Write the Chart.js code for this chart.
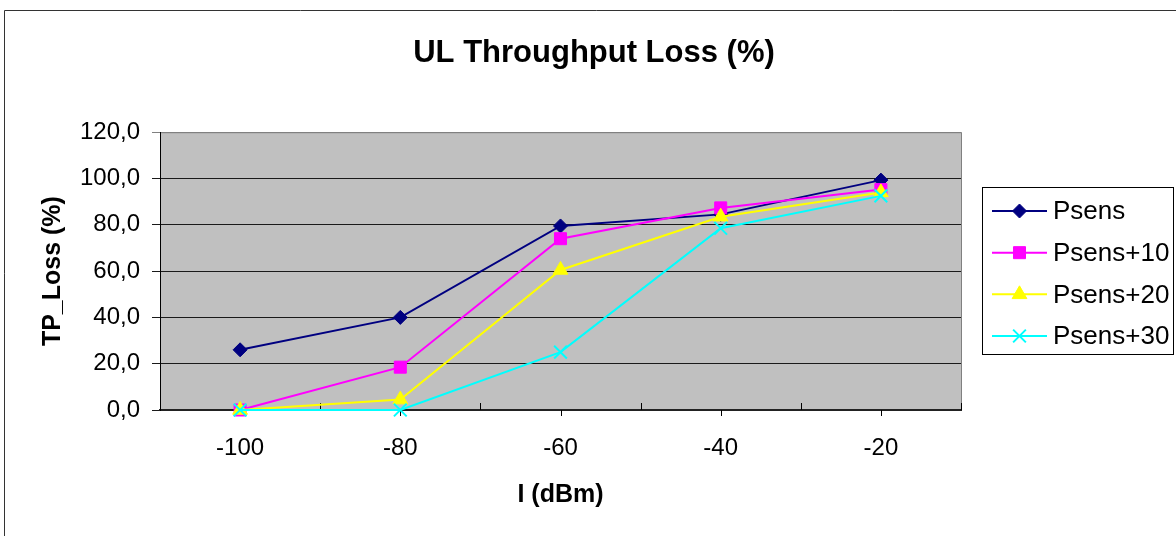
<!DOCTYPE html>
<html>
<head>
<meta charset="utf-8">
<title>UL Throughput Loss</title>
<script src="https://cdn.jsdelivr.net/npm/chart.js@4/dist/chart.umd.min.js"></script>
<style>
  html, body { margin: 0; padding: 0; background: #fff; overflow: hidden; }
  #wrap { width: 1176px; height: 536px; overflow: hidden; }
</style>
</head>
<body>
<div id="wrap"><canvas id="chart" width="1188" height="536"></canvas></div>
<script>
// Interference levels (dBm) and throughput loss per sensitivity offset
const levels = ['-100', '-80', '-60', '-40', '-20'];
const psens = [26, 40, 79.5, 84.5, 99.3];
const psens10 = [0, 18.5, 74, 87.3, 95.2];
const psens20 = [0, 4.5, 60.5, 83.5, 94];
const psens30 = [0, 0, 25, 78.5, 92.5];
const yTickLabels = ['0,0', '20,0', '40,0', '60,0', '80,0', '100,0', '120,0'];

const FONT = '"Liberation Sans", Arial, sans-serif';

// grey plot background, frame and the chart's outer border
const plotFrame = {
  id: 'plotFrame',
  beforeDraw(chart) {
    const { ctx, chartArea: a } = chart;
    ctx.save();
    ctx.fillStyle = '#c0c0c0';
    ctx.fillRect(a.left, a.top, a.right - a.left, a.bottom - a.top);
    ctx.strokeStyle = '#808080';
    ctx.lineWidth = 1;
    ctx.strokeRect(a.left + 0.5, a.top + 0.5, a.right - a.left, a.bottom - a.top);
    ctx.strokeStyle = '#333';
    ctx.beginPath();
    ctx.moveTo(4.5, chart.height + 5);
    ctx.lineTo(4.5, 10.5);
    ctx.lineTo(chart.width + 5, 10.5);
    ctx.stroke();
    ctx.restore();
  },
  // tick marks on the category axis: inside at boundaries, outside at centres
  beforeDatasetsDraw(chart) {
    const { ctx, chartArea: a } = chart;
    const xs = chart.scales.x;
    const step = xs.getPixelForValue(1) - xs.getPixelForValue(0);
    ctx.save();
    ctx.strokeStyle = '#000';
    ctx.lineWidth = 1;
    ctx.beginPath();
    for (let i = 0; i < levels.length; i++) {
      const c = Math.round(xs.getPixelForValue(i)) + 0.5;
      ctx.moveTo(c, a.bottom);
      ctx.lineTo(c, a.bottom + 6);
      const b = Math.round(xs.getPixelForValue(i) + step / 2) + 0.5;
      ctx.moveTo(b, a.bottom);
      ctx.lineTo(b, a.bottom - 7);
    }
    ctx.stroke();
    ctx.restore();
  }
};

// boxed legend with line + marker samples
const boxLegend = {
  id: 'boxLegend',
  afterDraw(chart) {
    const { ctx } = chart;
    const x0 = 982, y0 = 187, w = 191, h = 167;
    ctx.save();
    ctx.fillStyle = '#fff';
    ctx.fillRect(x0, y0, w, h);
    ctx.strokeStyle = '#000';
    ctx.lineWidth = 1;
    ctx.strokeRect(x0 + 0.5, y0 + 0.5, w, h);
    chart.data.datasets.forEach((ds, i) => {
      const y = 211 + i * 41.67;
      ctx.strokeStyle = ds.borderColor;
      ctx.lineWidth = 2;
      ctx.beginPath();
      ctx.moveTo(992, y);
      ctx.lineTo(1047, y);
      ctx.stroke();
      ctx.fillStyle = ds.pointBackgroundColor;
      ctx.strokeStyle = ds.pointBorderColor;
      ctx.lineWidth = ds.pointBorderWidth;
      Chart.helpers.drawPoint(ctx, {
        pointStyle: ds.pointStyle, radius: ds.pointRadius, rotation: 0, borderWidth: ds.pointBorderWidth
      }, 1019.5, y);
      ctx.fillStyle = '#000';
      ctx.font = '26px ' + FONT;
      ctx.textBaseline = 'middle';
      ctx.textAlign = 'left';
      ctx.fillText(ds.label, 1053, y + 1);
    });
    ctx.restore();
  }
};

function series(label, data, color, style, radius, bw, order) {
  return {
    label, data, order,
    clip: false,
    borderColor: color,
    borderWidth: 2,
    pointStyle: style,
    pointRadius: radius,
    pointHoverRadius: radius,
    pointBackgroundColor: color,
    pointBorderColor: color,
    pointBorderWidth: bw,
    tension: 0,
    fill: false
  };
}

const chart = new Chart(document.getElementById('chart').getContext('2d'), {
  type: 'line',
  data: {
    labels: levels,
    datasets: [
      series('Psens', psens, '#000080', 'rectRot', 7, 1, 3),
      series('Psens+10', psens10, '#ff00ff', 'rect', 8.5, 1, 2),
      series('Psens+20', psens20, '#ffff00', 'triangle', 8.5, 1, 1),
      series('Psens+30', psens30, '#00ffff', 'crossRot', 9, 2, 0)
    ]
  },
  options: {
    responsive: false,
    animation: false,
    events: [],
    layout: { padding: 0 },
    plugins: {
      legend: { display: false },
      tooltip: { enabled: false },
      title: {
        display: true,
        text: 'UL Throughput Loss (%)',
        color: '#000',
        font: { family: FONT, size: 31, weight: 'bold' },
        padding: { top: 35, bottom: 60 }
      }
    },
    scales: {
      x: {
        type: 'category',
        offset: true,
        grid: { display: false, drawTicks: false },
        border: { display: true, color: '#222', width: 2 },
        ticks: { color: '#000', font: { family: FONT, size: 24 }, padding: 24, maxRotation: 0 },
        title: {
          display: true, text: 'I (dBm)', color: '#000',
          font: { family: FONT, size: 25, weight: 'bold' },
          padding: { top: 0, bottom: 26 }
        },
        afterFit(s) { s.height = 126; }
      },
      y: {
        min: 0, max: 120,
        grid: {
          color: (c) => (c.tick && c.tick.value === 120 ? '#808080' : '#1a1a1a'),
          lineWidth: 1,
          tickLength: 8
        },
        border: { display: true, color: '#000', width: 1 },
        ticks: {
          stepSize: 20,
          color: '#000',
          padding: 12,
          font: { family: FONT, size: 24 },
          callback: (v, i) => yTickLabels[i]
        },
        title: {
          display: true, text: 'TP_Loss (%)', color: '#000',
          font: { family: FONT, size: 25, weight: 'bold' },
          padding: { top: 38, bottom: 0 }
        },
        afterFit(s) { s.width = 160; }
      },
      // empty right-hand box that leaves room for the legend
      spacer: {
        type: 'linear',
        position: 'right',
        display: true,
        grid: { display: false, drawTicks: false },
        border: { display: false },
        ticks: { display: false },
        afterFit(s) { s.width = 227; }
      }
    }
  },
  plugins: [plotFrame, boxLegend]
});
</script>
</body>
</html>
